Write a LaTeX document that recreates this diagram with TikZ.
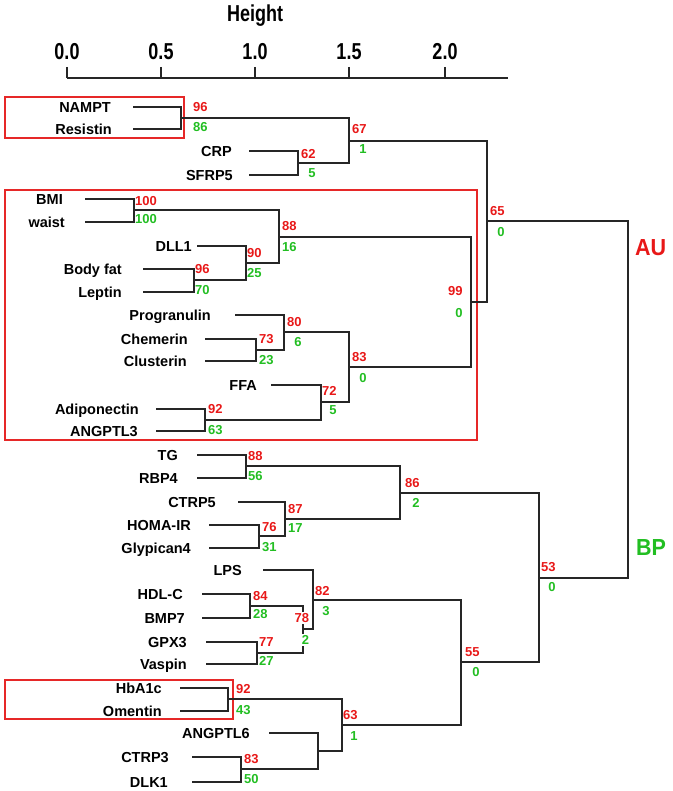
\documentclass[tikz,border=0pt]{standalone}
\usepackage{fontspec}
\setmainfont{Liberation Sans}
\usepackage{graphicx}
\definecolor{aured}{RGB}{232,24,24}
\definecolor{bpgreen}{RGB}{34,190,34}
\definecolor{boxred}{RGB}{230,40,40}
\begin{document}
\begin{tikzpicture}[x=1pt, y=-1pt]
	\tikzset{leaf/.style={anchor=base east, inner sep=0pt, yshift=-5.2pt, font=\fontsize{14.5}{17}\selectfont\bfseries}}
	\tikzset{au/.style={anchor=base west, inner sep=0pt, yshift=-4.6pt, text=aured, font=\fontsize{13}{15}\selectfont\bfseries}}
	\tikzset{bp/.style={au, anchor=base east, text=bpgreen}}
	\tikzset{branch/.style={draw=black!85, line width=1.6pt}}
	\tikzset{groupbox/.style={draw=boxred, line width=1.2pt}}
	\tikzset{ticklab/.style={anchor=base, inner sep=0pt, font=\fontsize{18}{20}\selectfont\bfseries}}
	\tikzset{side/.style={anchor=base west, inner sep=0pt, font=\fontsize{21.5}{24}\selectfont\bfseries}}
	\useasboundingbox (0,0) rectangle (672,791);

	% axis
	\node[ticklab]	(title)	at (255,21.7)	{\scalebox{1}[1.28]{Height}};
	\node[ticklab]	(t0)	at (67,60)		{\scalebox{1}[1.28]{0.0}};
	\node[ticklab]	(t1)	at (161,60)		{\scalebox{1}[1.28]{0.5}};
	\node[ticklab]	(t2)	at (255,60)		{\scalebox{1}[1.28]{1.0}};
	\node[ticklab]	(t3)	at (349,60)		{\scalebox{1}[1.28]{1.5}};
	\node[ticklab]	(t4)	at (445,60)		{\scalebox{1}[1.28]{2.0}};
	\coordinate (axl) at (67,78);
	\coordinate (axr) at (508,78);
	\draw[branch] (axl) -- (axr);
	\foreach \x in {67,161,255,349,445}
		\draw[branch] (\x,67) -- (\x,78);

	% group boxes
	\draw[groupbox] (5,97) rectangle (184,138);
	\draw[groupbox] (5,190) rectangle (477,440);
	\draw[groupbox] (5,680) rectangle (233,719);

	% leaves
	\node[leaf] (l-nampt)		at (111,107)	{NAMPT};		\coordinate (nampt)		at (133,107);
	\node[leaf] (l-resistin)	at (112,129)	{Resistin};		\coordinate (resistin)	at (133,129);
	\node[leaf] (l-crp)			at (232,151)	{CRP};			\coordinate (crp)		at (249,151);
	\node[leaf] (l-sfrp)		at (233,175)	{SFRP5};		\coordinate (sfrp)		at (249,175);
	\node[leaf] (l-bmi)			at (63,199)		{BMI};			\coordinate (bmi)		at (85,199);
	\node[leaf] (l-waist)		at (65,222)		{waist};		\coordinate (waist)		at (85,222);
	\node[leaf] (l-dll)			at (192,246)	{DLL1};			\coordinate (dll)		at (197,246);
	\node[leaf] (l-bodyfat)		at (122,269)	{Body fat};		\coordinate (bodyfat)	at (143,269);
	\node[leaf] (l-leptin)		at (122,292)	{Leptin};		\coordinate (leptin)	at (143,292);
	\node[leaf] (l-progran)		at (211,315)	{Progranulin};	\coordinate (progran)	at (235,315);
	\node[leaf] (l-chemerin)	at (188,339)	{Chemerin};		\coordinate (chemerin)	at (205,339);
	\node[leaf] (l-clusterin)	at (187,361)	{Clusterin};	\coordinate (clusterin)	at (205,361);
	\node[leaf] (l-ffa)			at (257,385)	{FFA};			\coordinate (ffa)		at (271,385);
	\node[leaf] (l-adipo)		at (139,409)	{Adiponectin};	\coordinate (adipo)		at (156,409);
	\node[leaf] (l-angptl3)		at (138,431)	{ANGPTL3};		\coordinate (angptl3)	at (156,431);
	\node[leaf] (l-tg)			at (178,455)	{TG};			\coordinate (tg)		at (197,455);
	\node[leaf] (l-rbp)			at (178,478)	{RBP4};			\coordinate (rbp)		at (197,478);
	\node[leaf] (l-ctrp5)		at (216,502)	{CTRP5};		\coordinate (ctrp5)		at (238,502);
	\node[leaf] (l-homa)		at (191,525)	{HOMA-IR};		\coordinate (homa)		at (209,525);
	\node[leaf] (l-glyp)		at (191,548)	{Glypican4};	\coordinate (glyp)		at (209,548);
	\node[leaf] (l-lps)			at (242,570)	{LPS};			\coordinate (lps)		at (263,570);
	\node[leaf] (l-hdl)			at (183,594)	{HDL-C};		\coordinate (hdl)		at (202,594);
	\node[leaf] (l-bmp)			at (185,618)	{BMP7};			\coordinate (bmp)		at (202,618);
	\node[leaf] (l-gpx)			at (187,642)	{GPX3};			\coordinate (gpx)		at (206,642);
	\node[leaf] (l-vaspin)		at (187,664)	{Vaspin};		\coordinate (vaspin)	at (206,664);
	\node[leaf] (l-hba)			at (162,688)	{HbA1c};		\coordinate (hba)		at (180,688);
	\node[leaf] (l-omentin)		at (162,711)	{Omentin};		\coordinate (omentin)	at (180,711);
	\node[leaf] (l-angptl6)		at (250,733)	{ANGPTL6};		\coordinate (angptl6)	at (269,733);
	\node[leaf] (l-ctrp3)		at (169,757)	{CTRP3};		\coordinate (ctrp3)		at (192,757);
	\node[leaf] (l-dlk)			at (168,782)	{DLK1};			\coordinate (dlk)		at (192,782);

	% merge points
	\coordinate (m1)	at (181,118);
	\coordinate (m2)	at (298,163);
	\coordinate (m3)	at (349,141);
	\coordinate (m4)	at (134,210);
	\coordinate (m5)	at (194,280);
	\coordinate (m6)	at (246,263);
	\coordinate (m7)	at (279,237);
	\coordinate (m8)	at (256,350);
	\coordinate (m9)	at (284,332);
	\coordinate (m10)	at (205,420);
	\coordinate (m11)	at (321,402);
	\coordinate (m12)	at (349,367);
	\coordinate (m13)	at (471,302);
	\coordinate (m14)	at (487,221);
	\coordinate (m15)	at (246,466);
	\coordinate (m16)	at (259,536);
	\coordinate (m17)	at (285,519);
	\coordinate (m18)	at (400,493);
	\coordinate (m19)	at (250,606);
	\coordinate (m20)	at (257,653);
	\coordinate (m21)	at (303,629);
	\coordinate (m22)	at (313,600);
	\coordinate (m23)	at (228,699);
	\coordinate (m24)	at (241,769);
	\coordinate (m25)	at (318,751);
	\coordinate (m26)	at (342,725);
	\coordinate (m27)	at (461,662);
	\coordinate (m28)	at (539,578);
	\coordinate (root)	at (628,400);

	\path[branch]
		(nampt) -| (m1) |- (resistin)
		(crp) -| (m2) |- (sfrp)
		(m1) -| (m3) |- (m2)
		(bmi) -| (m4) |- (waist)
		(bodyfat) -| (m5) |- (leptin)
		(dll) -| (m6) |- (m5)
		(m4) -| (m7) |- (m6)
		(chemerin) -| (m8) |- (clusterin)
		(progran) -| (m9) |- (m8)
		(adipo) -| (m10) |- (angptl3)
		(ffa) -| (m11) |- (m10)
		(m9) -| (m12) |- (m11)
		(m7) -| (m13) |- (m12)
		(m3) -| (m14) |- (m13)
		(tg) -| (m15) |- (rbp)
		(homa) -| (m16) |- (glyp)
		(ctrp5) -| (m17) |- (m16)
		(m15) -| (m18) |- (m17)
		(hdl) -| (m19) |- (bmp)
		(gpx) -| (m20) |- (vaspin)
		(m19) -| (m21) |- (m20)
		(lps) -| (m22) |- (m21)
		(hba) -| (m23) |- (omentin)
		(ctrp3) -| (m24) |- (dlk)
		(angptl6) -| (m25) |- (m24)
		(m23) -| (m26) |- (m25)
		(m22) -| (m27) |- (m26)
		(m18) -| (m28) |- (m27)
		(m14) -| (root) |- (m28)
		;

	% AU / BP values
	\node[au] (u1)	at (193,107)	{96};	\node[bp] (b1)	at (u1.base east |- 0,127)	{86};
	\node[au] (u2)	at (301,154)	{62};	\node[bp] (b2)	at (u2.base east |- 0,173)	{5};
	\node[au] (u3)	at (352,129)	{67};	\node[bp] (b3)	at (u3.base east |- 0,149)	{1};
	\node[au] (u4)	at (135,201)	{100};	\node[bp] (b4)	at (u4.base east |- 0,219)	{100};
	\node[au] (u5)	at (195,269)	{96};	\node[bp] (b5)	at (u5.base east |- 0,290)	{70};
	\node[au] (u6)	at (247,253)	{90};	\node[bp] (b6)	at (u6.base east |- 0,273)	{25};
	\node[au] (u7)	at (282,226)	{88};	\node[bp] (b7)	at (u7.base east |- 0,247)	{16};
	\node[au] (u8)	at (259,339)	{73};	\node[bp] (b8)	at (u8.base east |- 0,360)	{23};
	\node[au] (u9)	at (287,322)	{80};	\node[bp] (b9)	at (u9.base east |- 0,342)	{6};
	\node[au] (u10)	at (208,409)	{92};	\node[bp] (b10)	at (u10.base east |- 0,430)	{63};
	\node[au] (u11)	at (322,391)	{72};	\node[bp] (b11)	at (u11.base east |- 0,410)	{5};
	\node[au] (u12)	at (352,357)	{83};	\node[bp] (b12)	at (u12.base east |- 0,378)	{0};
	\node[au] (u13)	at (448,291)	{99};	\node[bp] (b13)	at (u13.base east |- 0,313)	{0};
	\node[au] (u14)	at (490,211)	{65};	\node[bp] (b14)	at (u14.base east |- 0,232)	{0};
	\node[au] (u15)	at (248,456)	{88};	\node[bp] (b15)	at (u15.base east |- 0,476)	{56};
	\node[au] (u16)	at (262,527)	{76};	\node[bp] (b16)	at (u16.base east |- 0,547)	{31};
	\node[au] (u17)	at (288,509)	{87};	\node[bp] (b17)	at (u17.base east |- 0,528)	{17};
	\node[au] (u18)	at (405,483)	{86};	\node[bp] (b18)	at (u18.base east |- 0,503)	{2};
	\node[au] (u19)	at (253,596)	{84};	\node[bp] (b19)	at (u19.base east |- 0,614)	{28};
	\node[au] (u20)	at (259,642)	{77};	\node[bp] (b20)	at (u20.base east |- 0,661)	{27};
	\node[au, fill=white, inner sep=1.5pt] (u21)	at (293,618)	{78};
	\node[bp, fill=white, inner sep=1.5pt] (b21)	at (u21.base east |- 0,640)	{2};
	\node[au] (u22)	at (315,591)	{82};	\node[bp] (b22)	at (u22.base east |- 0,611)	{3};
	\node[au] (u23)	at (236,689)	{92};	\node[bp] (b23)	at (u23.base east |- 0,710)	{43};
	\node[au] (u24)	at (244,759)	{83};	\node[bp] (b24)	at (u24.base east |- 0,779)	{50};
	\node[au] (u26)	at (343,715)	{63};	\node[bp] (b26)	at (u26.base east |- 0,736)	{1};
	\node[au] (u27)	at (465,652)	{55};	\node[bp] (b27)	at (u27.base east |- 0,672)	{0};
	\node[au] (u28)	at (541,567)	{53};	\node[bp] (b28)	at (u28.base east |- 0,587)	{0};

	% legend
	\node[side, text=aured]		(au)	at (635,255)	{\scalebox{1}[1.08]{AU}};
	\node[side, text=bpgreen]	(bp)	at (636,555)	{\scalebox{1}[1.08]{BP}};
\end{tikzpicture}
\end{document}
